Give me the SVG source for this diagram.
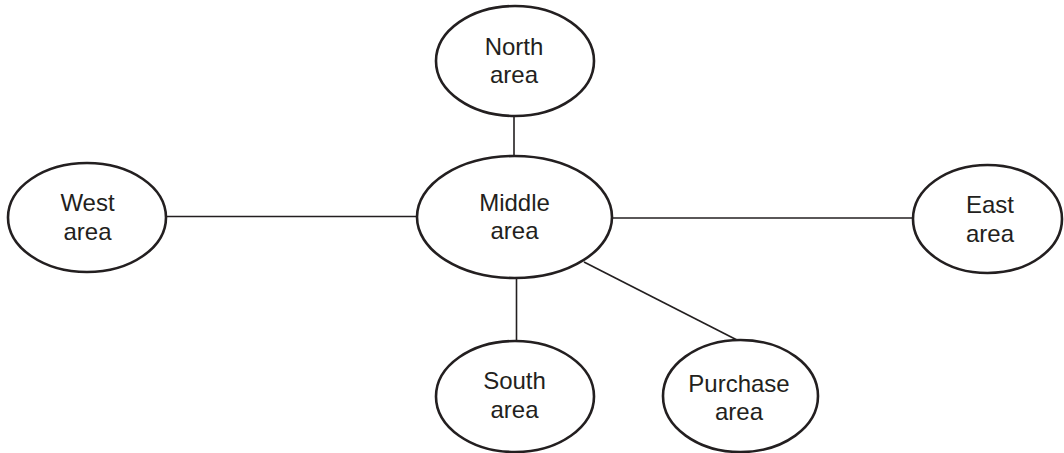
<svg xmlns="http://www.w3.org/2000/svg" width="1064" height="453" viewBox="0 0 1064 453">
<style>
.node ellipse{fill:#fff;stroke:#231f20;stroke-width:2.6}
.node text{font-family:"Liberation Sans",Arial,sans-serif;font-size:24px;fill:#231f20;text-anchor:middle}
#connectors line{stroke:#231f20;stroke-width:1.6}
</style>
<rect width="1064" height="453" fill="#fff"/>
<g id="connectors">
<line x1="514" y1="116" x2="514" y2="156"/>
<line x1="166" y1="216.5" x2="417" y2="216.5"/>
<line x1="612" y1="218" x2="913" y2="218"/>
<line x1="516.5" y1="278" x2="516.5" y2="341"/>
<line x1="584" y1="262" x2="737" y2="340"/>
</g>
<g id="north" class="node">
<ellipse cx="515" cy="61" rx="79" ry="55"/>
<text x="514" y="55">North</text>
<text x="514" y="83">area</text>
</g>
<g id="west" class="node">
<ellipse cx="87" cy="217.5" rx="79" ry="54.5"/>
<text x="87.5" y="211">West</text>
<text x="87.5" y="240">area</text>
</g>
<g id="middle" class="node">
<ellipse cx="514.5" cy="217" rx="97.5" ry="61"/>
<text x="514.5" y="210.5">Middle</text>
<text x="514.5" y="239">area</text>
</g>
<g id="east" class="node">
<ellipse cx="987.5" cy="219" rx="74.5" ry="54"/>
<text x="990" y="213">East</text>
<text x="990" y="241.5">area</text>
</g>
<g id="south" class="node">
<ellipse cx="515" cy="396.5" rx="79" ry="55.5"/>
<text x="514.5" y="389">South</text>
<text x="514.5" y="417.5">area</text>
</g>
<g id="purchase" class="node">
<ellipse cx="740.5" cy="396" rx="77.5" ry="56"/>
<text x="739" y="391.5">Purchase</text>
<text x="739" y="420">area</text>
</g>
</svg>
